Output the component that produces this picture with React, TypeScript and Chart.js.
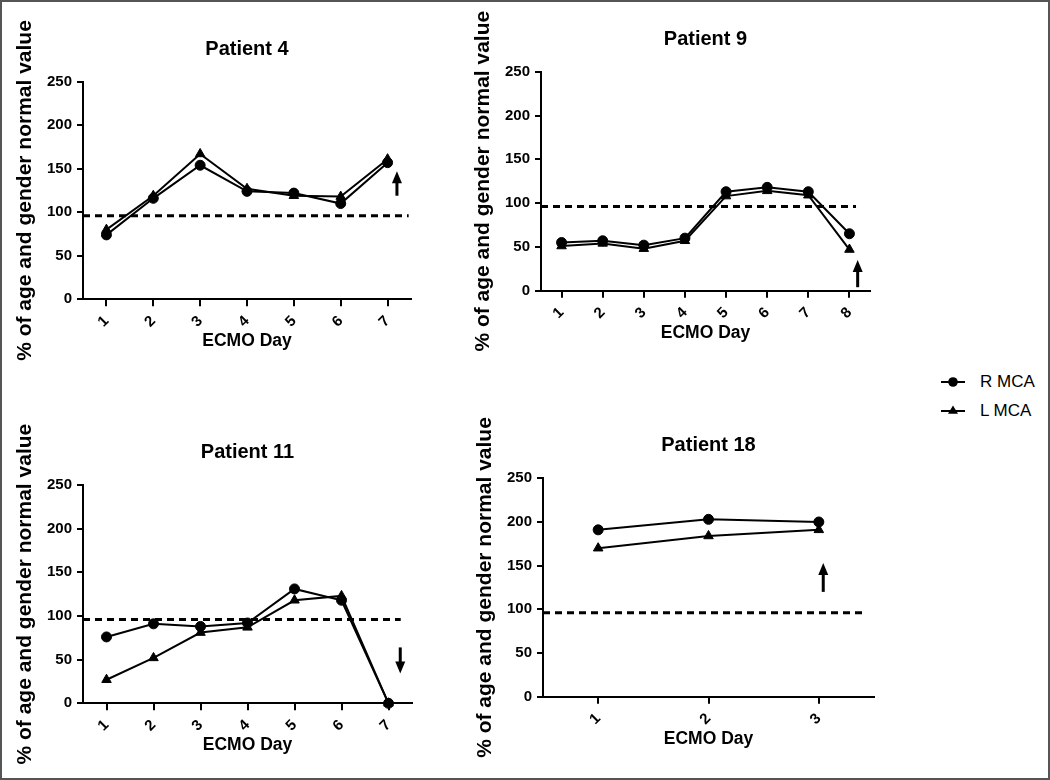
import React, { useEffect, useRef } from 'react';
import { Chart, registerables } from 'chart.js';

Chart.register(...registerables);

const FONT = "'Liberation Sans', Arial, Helvetica, sans-serif";

// ---------- data ----------
const yTickValues = [0, 50, 100, 150, 200, 250];
const normalLevel = 96;
const seriesNames = ['R MCA', 'L MCA'];
const panelTitles = ['Patient 4', 'Patient 9', 'Patient 11', 'Patient 18'];
const xAxisTitle = 'ECMO Day';
const yAxisTitle = '% of age and gender normal value';

const p4Days = [1, 2, 3, 4, 5, 6, 7];
const p4R = [74, 116, 154, 124, 122, 110, 157];
const p4L = [80, 119, 167, 127, 119, 118, 161];
const p4Arrow = { day: 7.2, from: 119, to: 147 };

const p9Days = [1, 2, 3, 4, 5, 6, 7, 8];
const p9R = [55, 57, 52, 60, 113, 118, 113, 65];
const p9L = [51, 54, 48, 57, 108, 114, 109, 47];
const p9Arrow = { day: 8.2, from: 4, to: 35 };

const p11Days = [1, 2, 3, 4, 5, 6, 7];
const p11R = [76, 91, 88, 92, 131, 118, 0];
const p11L = [27, 52, 81, 87, 118, 123, 0];
const p11Arrow = { day: 7.25, from: 64, to: 34 };

const p18Days = [1, 2, 3];
const p18R = [191, 203, 200];
const p18L = [170, 184, 191];
const p18Arrow = { day: 3.04, from: 120, to: 153 };

const normalLineEnd = [7.45, 8.16, 7.26, 3.41];

// ---------- layout (page coordinates) ----------
type Panel = {
  title: string;
  days: number[];
  r: number[];
  l: number[];
  arrow: { day: number; from: number; to: number };
  dashEnd: number;
  canvas: [number, number, number, number]; // x, y, w, h
  area: [number, number, number, number]; // L, T, R, B
};

const panels: Panel[] = [
  { title: panelTitles[0], days: p4Days, r: p4R, l: p4L, arrow: p4Arrow, dashEnd: normalLineEnd[0], canvas: [0, 0, 450, 385], area: [83, 81.7, 411, 299.3] },
  { title: panelTitles[1], days: p9Days, r: p9R, l: p9L, arrow: p9Arrow, dashEnd: normalLineEnd[1], canvas: [458, 0, 450, 385], area: [541, 71.7, 870, 290.7] },
  { title: panelTitles[2], days: p11Days, r: p11R, l: p11L, arrow: p11Arrow, dashEnd: normalLineEnd[2], canvas: [0, 390, 450, 385], area: [83, 485, 412, 703.3] },
  { title: panelTitles[3], days: p18Days, r: p18R, l: p18L, arrow: p18Arrow, dashEnd: normalLineEnd[3], canvas: [460, 390, 450, 385], area: [543, 478.3, 874, 696.7] },
];

const arrowPlugin = {
  id: 'arrows',
  afterDatasetsDraw(chart: any, _args: any, opts: any) {
    const a = opts && opts.arrow;
    if (!a) return;
    const { ctx } = chart;
    const xs = chart.scales.x;
    const ys = chart.scales.y;
    const x = xs.getPixelForValue(a.day);
    const y0 = ys.getPixelForValue(a.from);
    const y1 = ys.getPixelForValue(a.to);
    const dir = Math.sign(y1 - y0);
    const headLen = 12;
    const headHalf = 5;
    ctx.save();
    ctx.strokeStyle = '#000';
    ctx.fillStyle = '#000';
    ctx.lineWidth = 3;
    ctx.beginPath();
    ctx.moveTo(x, y0);
    ctx.lineTo(x, y1 - dir * (headLen - 1));
    ctx.stroke();
    ctx.beginPath();
    ctx.moveTo(x, y1);
    ctx.lineTo(x - headHalf, y1 - dir * headLen);
    ctx.lineTo(x + headHalf, y1 - dir * headLen);
    ctx.closePath();
    ctx.fill();
    ctx.restore();
  },
};

function PanelChart({ p }: { p: Panel }) {
  const ref = useRef<HTMLCanvasElement | null>(null);
  useEffect(() => {
    if (!ref.current) return;
    const [cx, cy, cw, ch] = p.canvas;
    const [L, T, R, B] = p.area;
    const yWidth = L - cx;
    const xHeight = cy + ch - B;
    const titleBlock = 44.7;
    const xTitlePadBottom = cy + ch - (B + 42) - 10.5;
    const xMin = p.days[0] - 0.5;
    const xMax = p.days[p.days.length - 1] + 0.5;

    const chart = new Chart(ref.current, {
      type: 'line',
      data: {
        datasets: [
          {
            label: seriesNames[0],
            data: p.days.map((d, i) => ({ x: d, y: p.r[i] })),
            borderColor: '#000',
            backgroundColor: '#000',
            borderWidth: 2,
            pointStyle: 'circle',
            pointRadius: 5,
            pointBorderWidth: 1,
            pointBorderColor: '#000',
            pointBackgroundColor: '#000',
            tension: 0,
            clip: false,
          },
          {
            label: seriesNames[1],
            data: p.days.map((d, i) => ({ x: d, y: p.l[i] })),
            borderColor: '#000',
            backgroundColor: '#000',
            borderWidth: 2,
            pointStyle: 'triangle',
            pointRadius: 5.5,
            pointBorderWidth: 1,
            pointBorderColor: '#000',
            pointBackgroundColor: '#000',
            tension: 0,
            clip: false,
          },
          {
            label: 'normal',
            data: [
              { x: xMin, y: normalLevel },
              { x: p.dashEnd, y: normalLevel },
            ],
            borderColor: '#000',
            borderWidth: 3,
            borderDash: [7, 5],
            borderCapStyle: 'butt',
            pointRadius: 0,
            clip: false,
          },
        ],
      },
      options: {
        animation: false,
        responsive: false,
        events: [],
        layout: {
          padding: { top: T - cy - titleBlock, left: 0, right: cx + cw - R, bottom: 0 },
        },
        plugins: {
          legend: { display: false },
          tooltip: { enabled: false },
          title: {
            display: true,
            text: p.title,
            fullSize: false,
            color: '#000',
            font: { family: FONT, size: 20, weight: 'bold', lineHeight: 1.2 },
            padding: { top: 0, bottom: titleBlock - 24 },
          },
          arrows: { arrow: p.arrow },
        } as any,
        scales: {
          x: {
            type: 'linear',
            min: xMin,
            max: xMax,
            afterBuildTicks: (s: any) => {
              s.ticks = p.days.map((v) => ({ value: v }));
            },
            afterFit: (s: any) => {
              s.height = xHeight;
            },
            ticks: {
              autoSkip: false,
              minRotation: 45,
              maxRotation: 45,
              color: '#000',
              padding: 6,
              font: { family: FONT, size: 15, weight: 'bold' },
              callback: (_v: any, i: number) => String(p.days[i]),
            },
            grid: {
              display: true,
              drawOnChartArea: false,
              drawTicks: true,
              tickLength: 7,
              color: '#000',
              lineWidth: 2,
            },
            border: { display: true, color: '#000', width: 2 },
            title: {
              display: true,
              text: xAxisTitle,
              color: '#000',
              font: { family: FONT, size: 17.5, weight: 'bold', lineHeight: 1.2 },
              padding: { top: 0, bottom: xTitlePadBottom },
            },
          },
          y: {
            type: 'linear',
            min: 0,
            max: 250,
            afterBuildTicks: (s: any) => {
              s.ticks = yTickValues.map((v) => ({ value: v }));
            },
            afterFit: (s: any) => {
              s.width = yWidth;
            },
            ticks: {
              color: '#000',
              padding: 5,
              font: { family: FONT, size: 15, weight: 'bold' },
              callback: (v: any) => String(v),
            },
            grid: {
              display: true,
              drawOnChartArea: false,
              drawTicks: true,
              tickLength: 6,
              color: '#000',
              lineWidth: 2,
            },
            border: { display: true, color: '#000', width: 2 },
            title: {
              display: true,
              text: yAxisTitle,
              color: '#000',
              font: { family: FONT, size: 21, weight: 'bold', lineHeight: 1.2 },
              padding: { top: 12.6, bottom: 0 },
            },
          },
        },
      } as any,
      plugins: [arrowPlugin as any],
    });
    return () => chart.destroy();
  }, [p]);

  const [cx, cy, cw, ch] = p.canvas;
  return (
    <canvas
      ref={ref}
      width={cw}
      height={ch}
      style={{ position: 'absolute', left: cx, top: cy, width: cw, height: ch }}
    />
  );
}

function LegendMarker({ kind }: { kind: 'circle' | 'triangle' }) {
  return (
    <svg width={26} height={14} style={{ position: 'absolute', left: 0, top: 3 }}>
      <line x1={1} y1={7} x2={25} y2={7} stroke="#000" strokeWidth={2} />
      {kind === 'circle' ? (
        <circle cx={13} cy={7} r={4.8} fill="#000" />
      ) : (
        <polygon points="13,1.5 18,9.8 8,9.8" fill="#000" />
      )}
    </svg>
  );
}

export default function App() {
  useEffect(() => {
    document.body.style.margin = '0';
  }, []);
  const legendRows = [
    { name: seriesNames[0], kind: 'circle' as const, top: 372 },
    { name: seriesNames[1], kind: 'triangle' as const, top: 400.7 },
  ];
  return (
    <div
      style={{
        position: 'absolute',
        left: 0,
        top: 0,
        width: 1050,
        height: 780,
        background: '#fff',
        overflow: 'hidden',
      }}
    >
      {panels.map((p) => (
        <PanelChart key={p.title} p={p} />
      ))}
      {legendRows.map((row) => (
        <div
          key={row.name}
          style={{ position: 'absolute', left: 940, top: row.top, width: 105, height: 20 }}
        >
          <LegendMarker kind={row.kind} />
          <span
            style={{
              position: 'absolute',
              left: 40,
              top: 0,
              lineHeight: '20px',
              fontFamily: FONT,
              fontSize: 17,
              color: '#000',
              whiteSpace: 'nowrap',
            }}
          >
            {row.name}
          </span>
        </div>
      ))}
      <div
        style={{
          position: 'absolute',
          left: 0,
          top: 0,
          width: 1050,
          height: 780,
          boxSizing: 'border-box',
          border: '2px solid #555',
          pointerEvents: 'none',
        }}
      />
    </div>
  );
}
